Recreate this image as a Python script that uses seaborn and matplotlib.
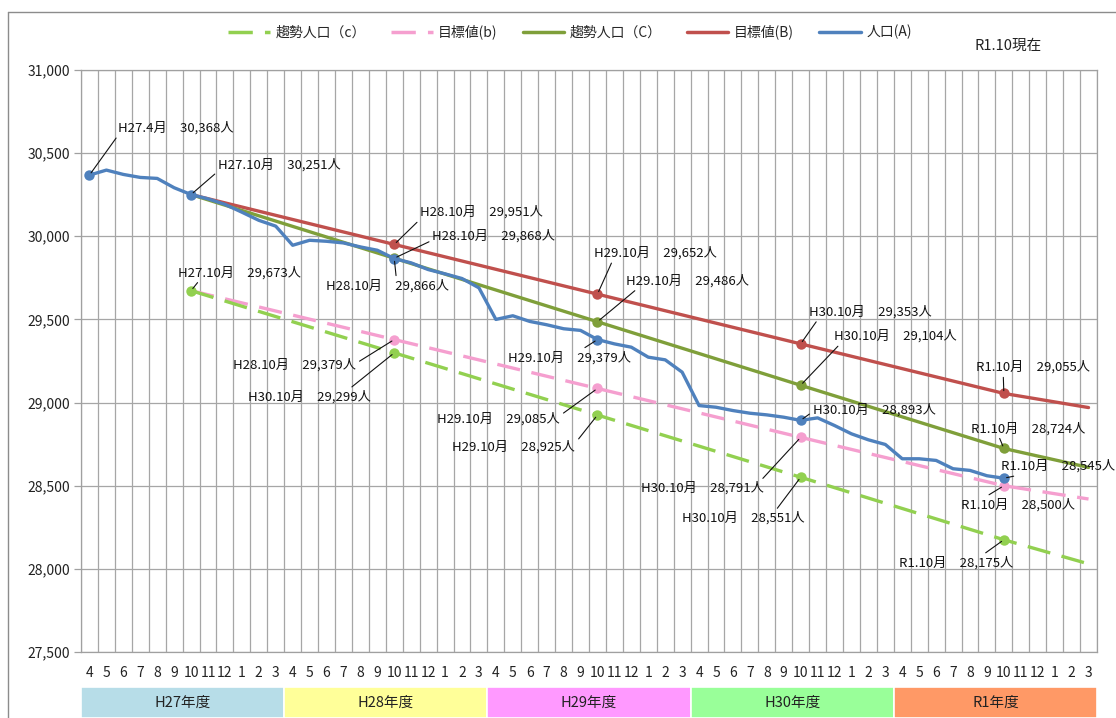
import numpy as np
import pandas as pd
import matplotlib
matplotlib.use('Agg')
import matplotlib.pyplot as plt
from matplotlib.lines import Line2D
import seaborn as sns

# month tick labels (fiscal year starts in April) and fiscal-year bands
months = [4, 5, 6, 7, 8, 9, 10, 11, 12, 1, 2, 3] * 5
fiscal_years = ['H27年度', 'H28年度', 'H29年度', 'H30年度', 'R1年度']
year_colors = ['#B7DDE8', '#FFFF99', '#FF99FF', '#99FF99', '#FF9966']

# actual population (A), H27.4 .. R1.10
pop_a = [30368, 30398, 30372, 30354, 30348, 30292, 30251, 30225, 30192, 30145,
         30096, 30061, 29946, 29976, 29970, 29960, 29936, 29916, 29866, 29840,
         29800, 29774, 29746, 29690, 29500, 29522, 29488, 29468, 29444, 29434,
         29379, 29353, 29333, 29273, 29257, 29183, 28982, 28972, 28952, 28936,
         28926, 28912, 28893, 28908, 28862, 28812, 28776, 28748, 28662, 28662,
         28652, 28602, 28592, 28560, 28545]

# plan lines: month index and values
plan_idx = [6, 18, 30, 42, 54, 59]
target_B = [30251, 29951, 29652, 29353, 29055, 28970]
trend_C = [30251, 29868, 29486, 29104, 28724, 28610]
target_b = [29673, 29379, 29085, 28791, 28500, 28420]
trend_c = [29673, 29299, 28925, 28551, 28175, 28030]

series = {
    'A': (list(range(len(pop_a))), pop_a),
    'B': (plan_idx, target_B),
    'C': (plan_idx, trend_C),
    'b': (plan_idx, target_b),
    'c': (plan_idx, trend_c),
}

# (series, month index, period text)
notes = [
    ('A', 0, 'H27.4月'), ('A', 6, 'H27.10月'),
    ('B', 18, 'H28.10月'), ('C', 18, 'H28.10月'), ('A', 18, 'H28.10月'),
    ('c', 6, 'H27.10月'), ('b', 18, 'H28.10月'), ('c', 18, 'H30.10月'),
    ('B', 30, 'H29.10月'), ('C', 30, 'H29.10月'), ('A', 30, 'H29.10月'),
    ('b', 30, 'H29.10月'), ('c', 30, 'H29.10月'),
    ('B', 42, 'H30.10月'), ('C', 42, 'H30.10月'), ('A', 42, 'H30.10月'),
    ('b', 42, 'H30.10月'), ('c', 42, 'H30.10月'),
    ('B', 54, 'R1.10月'), ('C', 54, 'R1.10月'), ('A', 54, 'R1.10月'),
    ('b', 54, 'R1.10月'), ('c', 54, 'R1.10月'),
]
# label placement: text offset in pixels (dx, dy up) and leader attach point
note_pos = [
    (29, 47, 0.0, 0.0), (27, 30, 0.0, 0.0),
    (26, 32, 0.0, 0.0), (38, 22, 0.0, 0.2), (-68, -27, 0.57, 1.0),
    (-13, 18, 0.18, 0.0), (-161, -25, 1.0, 0.6), (-146, -44, 0.81, 1.0),
    (-3, 41, 0.15, 0.0), (29, 41, 0.1, 0.0), (-89, -18, 0.58, 1.0),
    (-160, -31, 1.0, 0.8), (-145, -32, 1.0, 0.8),
    (8, 32, 0.08, 0.0), (33, 49, 0.06, 0.0), (12, 10, 0.0, 0.4),
    (-160, -51, 0.97, 1.0), (-119, -41, 0.76, 1.0),
    (-28, 26, 0.24, 0.0), (-33, 20, 0.24, 0.0), (-3, 12, 0.25, 0.0),
    (-43, -19, 0.2, 1.0), (-105, -23, 0.72, 1.0),
]

styles = {
    'b': dict(color='#F59FCF', ls=(0, (7, 3.5)), marks=[1, 2, 3, 4], label='目標値(b)'),
    'c': dict(color='#92D050', ls=(0, (7, 3.5)), marks=[0, 1, 2, 3, 4], label='趨勢人口（c）'),
    'B': dict(color='#C0504D', ls='-', marks=[1, 2, 3, 4], label='目標値(B)'),
    'C': dict(color='#7F9F3A', ls='-', marks=[1, 2, 3, 4], label='趨勢人口（C）'),
    'A': dict(color='#4F81BD', ls='-', marks=[0, 6, 18, 30, 42, 54], label='人口(A)'),
}

sns.set_theme(style='white')
plt.rcParams['font.family'] = ['Noto Sans CJK JP', 'DejaVu Sans']

fig = plt.figure(figsize=(11.16, 7.18), dpi=100)
ax = fig.add_axes([81 / 1116, 1 - 652 / 718, 1016 / 1116, 582 / 718])

for key in ['b', 'c', 'B', 'C', 'A']:
    xs, ys = series[key]
    st = styles[key]
    df = pd.DataFrame({'month': xs, 'value': ys})
    sns.lineplot(data=df, x='month', y='value', ax=ax, color=st['color'],
                 linestyle=st['ls'], linewidth=2.4, marker='o', markersize=7.5,
                 markeredgewidth=0, markevery=st['marks'], legend=False)

for (key, idx, period), (dx, dy, rx, ry) in zip(notes, note_pos):
    xs, ys = series[key]
    val = ys[xs.index(idx)]
    ax.annotate(f'{period}\u3000{val:,}人', xy=(idx, val), xytext=(dx, dy),
                textcoords='offset pixels', ha='left', va='center', fontsize=9.5,
                color='#111111',
                arrowprops=dict(arrowstyle='-', color='#111111', lw=0.8,
                                relpos=(rx, ry), shrinkA=0, shrinkB=2))

ax.set_xlim(-0.5, 59.5)
ax.set_ylim(27500, 31000)
ax.set_yticks(np.arange(27500, 31001, 500))
ax.yaxis.set_major_formatter(matplotlib.ticker.FuncFormatter(lambda v, p: f'{int(v):,}'))
ax.set_xticks(range(len(months)))
ax.set_xticklabels([str(m) for m in months])
ax.set_xticks(np.arange(-0.5, 60, 1), minor=True)
ax.tick_params(axis='x', which='major', length=0, pad=10, labelsize=10, labelcolor='#222222')
ax.tick_params(axis='x', which='minor', length=6, color='#A0A0A0', width=0.9, direction='out')
ax.tick_params(axis='y', length=5, color='#A0A0A0', width=0.9, direction='out',
               labelsize=10, labelcolor='#222222', pad=3, left=True)
ax.grid(which='minor', axis='x', color='#A6A6A6', lw=0.9)
ax.grid(which='major', axis='y', color='#A6A6A6', lw=0.9)
ax.grid(which='major', axis='x', visible=False)
ax.set_xlabel('')
ax.set_ylabel('')
for s in ax.spines.values():
    s.set_color('#A0A0A0')
    s.set_linewidth(0.9)

# fiscal year bands
axb = fig.add_axes([81 / 1116, 0, 1016 / 1116, 31 / 718])
centers = [i * 12 + 5.5 for i in range(len(fiscal_years))]
axb.bar(centers, [1] * len(fiscal_years), width=12, color=year_colors,
        edgecolor='white', linewidth=1.2)
for c, name in zip(centers, fiscal_years):
    axb.text(c, 0.5, name, ha='center', va='center', fontsize=10.5, color='#222222')
axb.set_xlim(-0.5, 59.5)
axb.set_ylim(0, 1)
axb.axis('off')

# legend
handles = [Line2D([0], [0], color=styles[k]['color'], ls=styles[k]['ls'], lw=2.5)
           for k in ['c', 'b', 'C', 'B', 'A']]
labels = [styles[k]['label'] for k in ['c', 'b', 'C', 'B', 'A']]
fig.legend(handles, labels, loc='center', bbox_to_anchor=(570 / 1116, 1 - 32 / 718),
           ncol=5, frameon=False, fontsize=10, handlelength=3.0, columnspacing=1.8,
           handletextpad=0.4)
fig.text(1008 / 1116, 1 - 46 / 718, 'R1.10現在', ha='center', va='center',
         fontsize=10.5, color='#222222')

# outer chart frame
fig.add_artist(Line2D([8 / 1116, 1], [1 - 12 / 718, 1 - 12 / 718], color='#8C8C8C', lw=1))
fig.add_artist(Line2D([8 / 1116, 8 / 1116], [0, 1 - 12 / 718], color='#8C8C8C', lw=1))

fig.savefig('out.png', dpi=100)
